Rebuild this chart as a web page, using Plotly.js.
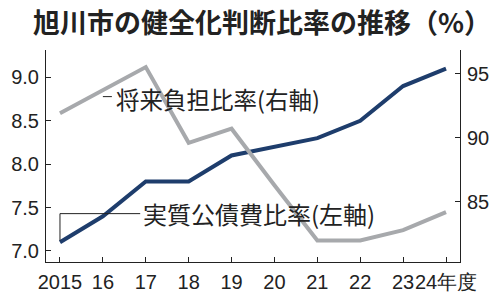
<!DOCTYPE html>
<html><head><meta charset="utf-8">
<script src="https://cdn.plot.ly/plotly-3.0.1.min.js"></script>
<style>html,body{margin:0;padding:0;background:#fff;}#c{width:500px;height:298px;}</style>
</head><body><div id="c"></div>
<script>
const years = [2015, 2016, 2017, 2018, 2019, 2020, 2021, 2022, 2023, 2024];
const tickLabels = ["2015", "16", "17", "18", "19", "20", "21", "22", "23", "24年度"];
const debtServiceRatio = [7.1, 7.4, 7.8, 7.8, 8.1, 8.2, 8.3, 8.5, 8.9, 9.1];   // 実質公債費比率 (左軸)
const futureBurdenRatio = [91.9, 93.7, 95.5, 89.6, 90.7, 86.3, 82.0, 82.0, 82.8, 84.2]; // 将来負担比率 (右軸)
const leftTicks = [7.0, 7.5, 8.0, 8.5, 9.0];
const leftTickText = ["7.0", "7.5", "8.0", "8.5", "9.0"];
const rightTicks = [85, 90, 95];
const titleText = "旭川市の健全化判断比率の推移（%）";
const labelDebt = "実質公債費比率(左軸)";
const labelFuture = "将来負担比率(右軸)";

const tickFont = {family: '"Liberation Sans Narrow", "Liberation Sans", sans-serif', size: 20, color: '#222'};
const cjk = '"Noto Sans CJK JP", sans-serif';

const traces = [
  {x: years, y: futureBurdenRatio, yaxis: 'y2', type: 'scatter', mode: 'lines',
   line: {color: '#a7a9ac', width: 4}, hoverinfo: 'skip'},
  {x: years, y: debtServiceRatio, yaxis: 'y', type: 'scatter', mode: 'lines',
   line: {color: '#1e3d6c', width: 4}, hoverinfo: 'skip'}
];

const axCommon = {showgrid: false, zeroline: false, showline: true, linecolor: '#222', linewidth: 1,
  ticks: 'inside', ticklen: 5, tickcolor: '#222', tickwidth: 1, tickfont: tickFont, fixedrange: true, tickangle: 0};

const layout = {
  width: 500, height: 298,
  margin: {l: 46, r: 40, t: 50, b: 36, pad: 0},
  paper_bgcolor: '#fff', plot_bgcolor: '#fff',
  showlegend: false,
  title: {text: '<b>' + titleText + '</b>', font: {family: cjk, size: 27, color: '#222'},
          x: 33/500, xref: 'container', xanchor: 'left', y: 1 - 24/298, yref: 'container', yanchor: 'middle'},
  xaxis: Object.assign({}, axCommon, {range: [2014.674, 2024.326], tickvals: years, ticktext: tickLabels, ticklabelstandoff: 2}),
  yaxis: Object.assign({}, axCommon, {range: [6.873, 9.315], tickvals: leftTicks, ticktext: leftTickText, ticklabelstandoff: 2}),
  yaxis2: Object.assign({}, axCommon, {range: [80.32, 96.83], tickvals: rightTicks, overlaying: 'y', side: 'right', ticklabelstandoff: 2}),
  shapes: [
    {type: 'path', xref: 'x', yref: 'y', path: 'M 2015,7.12 L 2015,7.43 L 2016.87,7.43', line: {color: '#222', width: 1}},
    {type: 'line', xref: 'x', yref: 'y2', x0: 2016.0, x1: 2016.21, y0: 93.2, y1: 93.2, line: {color: '#222', width: 1}}
  ],
  annotations: [
    {text: labelDebt, xref: 'x', yref: 'y', x: 2016.90, y: 7.43, xanchor: 'left', yanchor: 'middle', showarrow: false,
     font: {family: cjk, size: 24, color: '#222'}},
    {text: labelFuture, xref: 'x', yref: 'y2', x: 2016.27, y: 93.0, xanchor: 'left', yanchor: 'middle', showarrow: false,
     font: {family: cjk, size: 23.5, color: '#222'}}
  ]
};
Plotly.newPlot('c', traces, layout, {displayModeBar: false, staticPlot: true});
</script></body></html>
